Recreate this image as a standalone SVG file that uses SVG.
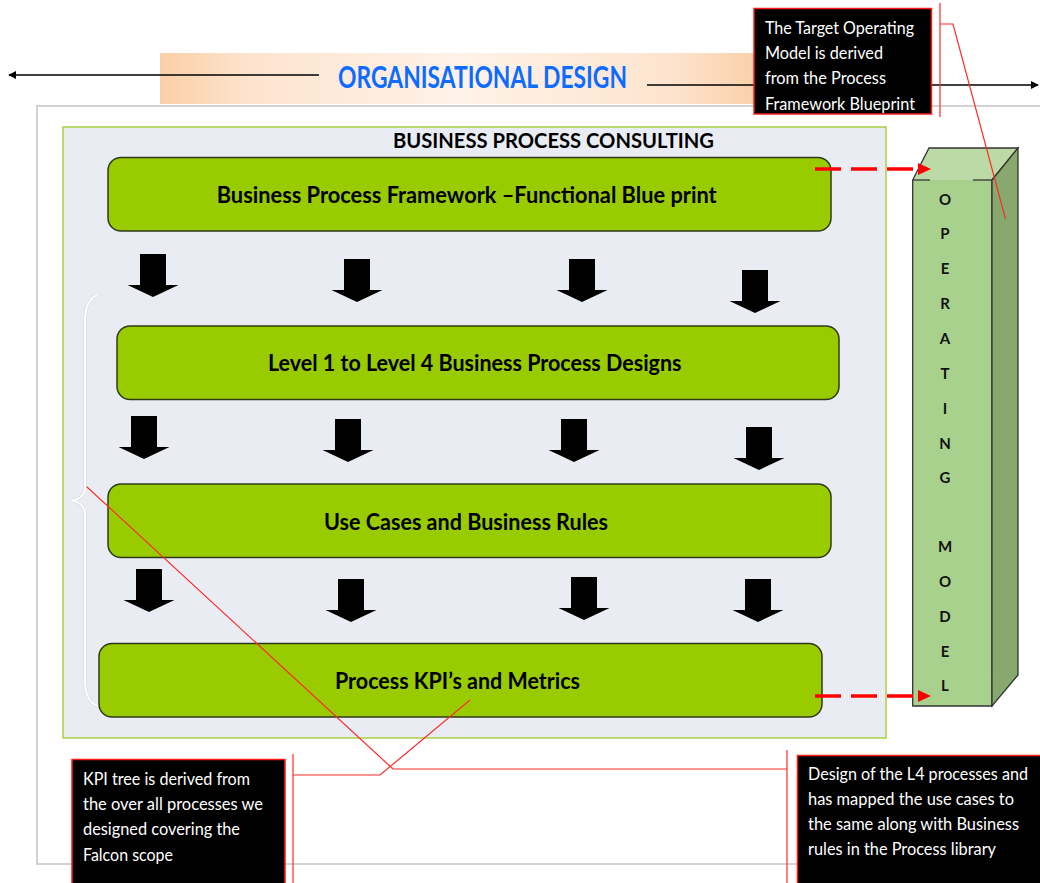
<svg xmlns="http://www.w3.org/2000/svg" width="1040" height="883" viewBox="0 0 1040 883">
  <defs>
    <linearGradient id="bandGrad" x1="0" y1="0" x2="1" y2="0">
      <stop offset="0" stop-color="#fbcfa6"/>
      <stop offset="0.15" stop-color="#fde4cf"/>
      <stop offset="0.5" stop-color="#fff2e8"/>
      <stop offset="0.85" stop-color="#fde4cf"/>
      <stop offset="1" stop-color="#fbd0a8"/>
    </linearGradient>
    <path id="blk" d="M-13,0 H13 V31 H25.5 L0,43 L-25.5,31 H-13 Z"/>
    <marker id="headBlack" viewBox="0 0 10 10" refX="9" refY="5" markerWidth="8" markerHeight="8" orient="auto-start-reverse" markerUnits="userSpaceOnUse">
      <path d="M0,0 L10,5 L0,10 Z" fill="#000"/>
    </marker>
  </defs>
  <style>
    .stage { font-family: "Lato", "Open Sans", "Liberation Sans", sans-serif; }
    .step rect { fill: #99cc00; stroke: #2f3a1a; stroke-width: 1.5; }
    .step text { font-size: 22px; font-weight: 700; fill: #000; }
    .note rect { fill: #000; stroke: #ff1a1a; stroke-width: 1.5; }
    .note text { font-size: 17px; fill: #fff; }
    .lead { fill: none; stroke: #ff2a2a; stroke-width: 1.2; }
    .cubeL { font-size: 15px; font-weight: 700; fill: #111; text-anchor: middle; }
    .flow { fill: none; stroke: #ff0000; stroke-width: 3.5; stroke-dasharray: 26 10; }
  </style>

  <rect width="1040" height="883" fill="#ffffff"/>

  <g class="stage">
    <!-- outer frame -->
    <rect x="37" y="106" width="1010" height="758" fill="#ffffff" stroke="#d3d3d3" stroke-width="2"/>

    <!-- organisational design band -->
    <g id="org-design">
      <rect x="160" y="53" width="600" height="51" fill="url(#bandGrad)"/>
      <text x="338" y="88" font-size="30" font-weight="700" fill="#0d6cff" textLength="289" lengthAdjust="spacingAndGlyphs">ORGANISATIONAL DESIGN</text>
    </g>

    <!-- business process consulting panel -->
    <g id="bpc-panel">
      <rect x="63" y="127" width="823" height="611" fill="#e9edf3" stroke="#a8d040" stroke-width="1.5"/>
      <text x="393" y="148" font-size="21" font-weight="700" fill="#000" textLength="321" lengthAdjust="spacingAndGlyphs">BUSINESS PROCESS CONSULTING</text>
    </g>

    <!-- brace -->
    <path d="M97,295 Q85,300 85,322 V487 Q85,498 72,500.5 Q85,503 85,514 V680 Q85,702 98,706" fill="none" stroke="#d2d6dc" stroke-width="3"/>
    <path d="M97,295 Q85,300 85,322 V487 Q85,498 72,500.5 Q85,503 85,514 V680 Q85,702 98,706" fill="none" stroke="#ffffff" stroke-width="2"/>

    <g id="step-framework" class="step">
      <rect x="108" y="157.5" width="723" height="73.5" rx="13"/>
      <text x="216.7" y="203" textLength="500" lengthAdjust="spacingAndGlyphs">Business Process Framework –Functional Blue print</text>
    </g>
    <g id="step-levels" class="step">
      <rect x="117" y="326" width="722" height="73.5" rx="13"/>
      <text x="268" y="371" textLength="413.5" lengthAdjust="spacingAndGlyphs">Level 1 to Level 4 Business Process Designs</text>
    </g>
    <g id="step-usecases" class="step">
      <rect x="108" y="484" width="723" height="73.5" rx="13"/>
      <text x="324" y="529.5" textLength="284" lengthAdjust="spacingAndGlyphs">Use Cases and Business Rules</text>
    </g>
    <g id="step-kpi" class="step">
      <rect x="99" y="643.5" width="723" height="73.5" rx="13"/>
      <text x="335" y="688.5" textLength="245" lengthAdjust="spacingAndGlyphs">Process KPI’s and Metrics</text>
    </g>

    <!-- operating model column -->
    <g id="operating-model">
      <rect x="912.7" y="180" width="79.3" height="526" fill="#a9d18e" stroke="none"/>
      <path d="M912.7,180 V706 H992 V180" fill="none" stroke="#333" stroke-width="1.3"/>
      <path d="M912.7,180 L929,148 H1018 L992,180" fill="#bcdaa5" stroke="#333" stroke-width="1.3"/>
      <line x1="912.7" y1="180" x2="930" y2="180" stroke="#333" stroke-width="1.3"/>
      <line x1="973" y1="180" x2="992" y2="180" stroke="#333" stroke-width="1.3"/>
      <path d="M992,180 L1018,148 V675 L992,706 Z" fill="#88a96e" stroke="#333" stroke-width="1.3"/>
      <text class="cubeL" x="945" y="204.5">O</text>
      <text class="cubeL" x="945" y="238.5">P</text>
      <text class="cubeL" x="945" y="274">E</text>
      <text class="cubeL" x="945" y="308.5">R</text>
      <text class="cubeL" x="945" y="343.5">A</text>
      <text class="cubeL" x="945" y="378.5">T</text>
      <text class="cubeL" x="945" y="413.5">I</text>
      <text class="cubeL" x="945" y="448.5">N</text>
      <text class="cubeL" x="945" y="482.5">G</text>
      <text class="cubeL" x="945" y="551.5">M</text>
      <text class="cubeL" x="945" y="586.5">O</text>
      <text class="cubeL" x="945" y="622">D</text>
      <text class="cubeL" x="945" y="657">E</text>
      <text class="cubeL" x="945" y="690.5">L</text>
    </g>

    <!-- connectors -->
    <g id="connectors">
      <line x1="319" y1="75" x2="9" y2="75" stroke="#000" stroke-width="1.3" marker-end="url(#headBlack)"/>
      <line x1="647" y1="85" x2="1038" y2="85" stroke="#000" stroke-width="1.3" marker-end="url(#headBlack)"/>

      <g fill="#000">
        <use href="#blk" transform="translate(153,254)"/>
        <use href="#blk" transform="translate(357,259)"/>
        <use href="#blk" transform="translate(582,259)"/>
        <use href="#blk" transform="translate(755,270)"/>
        <use href="#blk" transform="translate(144,416)"/>
        <use href="#blk" transform="translate(348,419)"/>
        <use href="#blk" transform="translate(574,419)"/>
        <use href="#blk" transform="translate(759,427)"/>
        <use href="#blk" transform="translate(149,569)"/>
        <use href="#blk" transform="translate(351,579)"/>
        <use href="#blk" transform="translate(584,577)"/>
        <use href="#blk" transform="translate(758,579)"/>
      </g>

      <line class="flow" x1="815" y1="169" x2="920" y2="169"/>
      <path d="M918,163 L931,169 L918,175 Z" fill="#ff0000"/>
      <line class="flow" x1="815" y1="696" x2="920" y2="696"/>
      <path d="M918,690 L931,696 L918,702 Z" fill="#ff0000"/>
    </g>

    <!-- callouts -->
    <g id="note-tom" class="note">
      <rect x="754" y="8.5" width="177.5" height="105.5"/>
      <text x="765" y="34" textLength="149" lengthAdjust="spacingAndGlyphs">The Target Operating</text>
      <text x="765" y="59" textLength="118" lengthAdjust="spacingAndGlyphs">Model is derived</text>
      <text x="765" y="84" textLength="121" lengthAdjust="spacingAndGlyphs">from the Process</text>
      <text x="765" y="110" textLength="150" lengthAdjust="spacingAndGlyphs">Framework Blueprint</text>
    </g>
    <g id="note-kpi" class="note">
      <rect x="72" y="759.5" width="213" height="140"/>
      <text x="83" y="785" textLength="167" lengthAdjust="spacingAndGlyphs">KPI tree is derived from</text>
      <text x="83" y="810" textLength="180" lengthAdjust="spacingAndGlyphs">the over all processes we</text>
      <text x="83" y="835" textLength="157" lengthAdjust="spacingAndGlyphs">designed covering the</text>
      <text x="83" y="861" textLength="90" lengthAdjust="spacingAndGlyphs">Falcon scope</text>
    </g>
    <g id="note-l4" class="note">
      <rect x="797.5" y="755.5" width="260" height="140"/>
      <text x="808" y="780" textLength="220" lengthAdjust="spacingAndGlyphs">Design of the L4 processes and</text>
      <text x="808" y="805" textLength="206" lengthAdjust="spacingAndGlyphs">has mapped the use cases to</text>
      <text x="808" y="830" textLength="211" lengthAdjust="spacingAndGlyphs">the same along with Business</text>
      <text x="808" y="855" textLength="188" lengthAdjust="spacingAndGlyphs">rules in the Process library</text>
    </g>

    <!-- callout leader lines -->
    <g id="leaders">
      <line class="lead" x1="940" y1="3" x2="940" y2="117"/>
      <polyline class="lead" points="940,24 953,24 1005.5,219"/>
      <line class="lead" x1="293" y1="754" x2="293" y2="883"/>
      <polyline class="lead" points="293,775 380,775 470,700"/>
      <line class="lead" x1="787" y1="750" x2="787" y2="883"/>
      <polyline class="lead" points="86.7,486.7 393,769 787,769"/>
    </g>
  </g>
</svg>
